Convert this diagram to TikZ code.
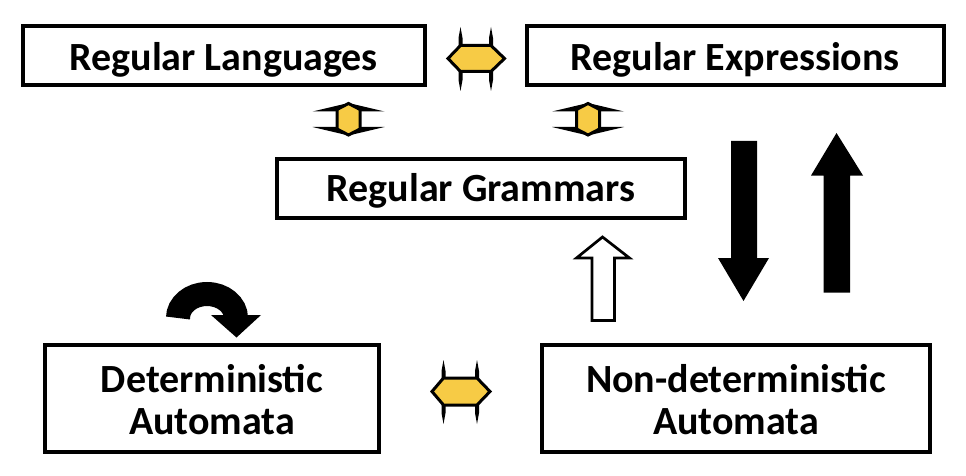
\documentclass[tikz,border=0pt]{standalone}
\usepackage{fontspec}
\setmainfont{Carlito}
\definecolor{ay}{RGB}{247,203,69}
\tikzset{
  box/.style={draw=black, line width=4pt, fill=white, inner sep=0pt},
  txt/.style={inner sep=0pt, align=center, font=\bfseries\fontsize{40}{42}\selectfont},
  yarrow/.style={fill=ay, draw=black, line width=3pt, line join=miter},
  barb/.style={fill=black, draw=none},
  blk/.style={fill=black, draw=none},
  hollow/.style={fill=white, draw=black, line width=2.7pt, line join=miter}
}
\begin{document}
\begin{tikzpicture}[x=1pt,y=-1pt]
\useasboundingbox[fill=white] (0,0) rectangle (966,476);
% boxes
\node[box, minimum width=402.5pt, minimum height=58.5pt] (rl) at (223.75,55.75) {};
\node[box, minimum width=417.5pt, minimum height=58.5pt] (re) at (735.25,55.75) {};
\node[box, minimum width=408pt, minimum height=59.5pt] (rg) at (481,188.25) {};
\node[box, minimum width=334pt, minimum height=107pt] (da) at (212,398.5) {};
\node[box, minimum width=388pt, minimum height=107pt] (na) at (736,398.5) {};
\node[txt] (rlt) at ([yshift=-4pt]rl.center) {Regular Languages};
\node[txt] (ret) at ([yshift=-4pt]re.center) {Regular Expressions};
\node[txt] (rgt) at ([yshift=-3pt]rg.center) {Regular Grammars};
\node[txt] (dat) at ([yshift=-1pt]da.center) {Deterministic\\Automata};
\node[txt] (nat) at ([yshift=-1pt]na.center) {Non-deterministic\\Automata};
% top horizontal yellow double arrow
\fill[barb] (460.5,27) -- (462.5,38) -- (462.5,80) -- (460.5,91) -- (458.5,80) -- (458.5,38) -- cycle;
\fill[barb] (491,27) -- (493,38) -- (493,80) -- (491,91) -- (489,80) -- (489,38) -- cycle;
\draw[yarrow] (448,58.5) -- (460.5,45.5) -- (491,45.5) -- (504.5,58.5) -- (491,71.5) -- (460.5,71.5) -- cycle;
% bottom horizontal yellow double arrow
\fill[barb] (443.5,360) -- (445.5,371) -- (445.5,413) -- (443.5,424) -- (441.5,413) -- (441.5,371) -- cycle;
\fill[barb] (477,360) -- (479,371) -- (479,413) -- (477,424) -- (475,413) -- (475,371) -- cycle;
\draw[yarrow] (432,391.5) -- (443.5,378) -- (477,378) -- (490,391.5) -- (477,405) -- (443.5,405) -- cycle;
% vertical yellow double arrows
\foreach \c in {348.5,588}{
  \fill[barb] (\c-36,111.5) -- (\c,103) -- (\c+36,111.5) -- cycle;
  \fill[barb] (\c-36,127) -- (\c,135.5) -- (\c+36,127) -- cycle;
  \draw[yarrow] (\c,103.5) -- (\c+11.5,109.5) -- (\c+11.5,129) -- (\c,135) -- (\c-11.5,129) -- (\c-11.5,109.5) -- cycle;
}
% black arrows
\fill[blk] (731,141) -- (757,141) -- (757,258) -- (769,258) -- (743.5,301) -- (718,258) -- (731,258) -- cycle;
\fill[blk] (823.5,292.5) -- (850,292.5) -- (850,175.5) -- (863,175.5) -- (836.5,133) -- (811,175.5) -- (823.5,175.5) -- cycle;
% hollow arrow
\draw[hollow] (592,320.5) -- (614.5,320.5) -- (614.5,258) -- (629.5,258) -- (602.5,237) -- (576.5,258) -- (592,258) -- cycle;
% curved arrow
\draw[line width=24pt] (178,318) arc[start angle=180, end angle=360, x radius=29, y radius=24];
\fill[blk] (211,315) -- (261,315) -- (236.5,337.5) -- cycle;
\end{tikzpicture}
\end{document}
